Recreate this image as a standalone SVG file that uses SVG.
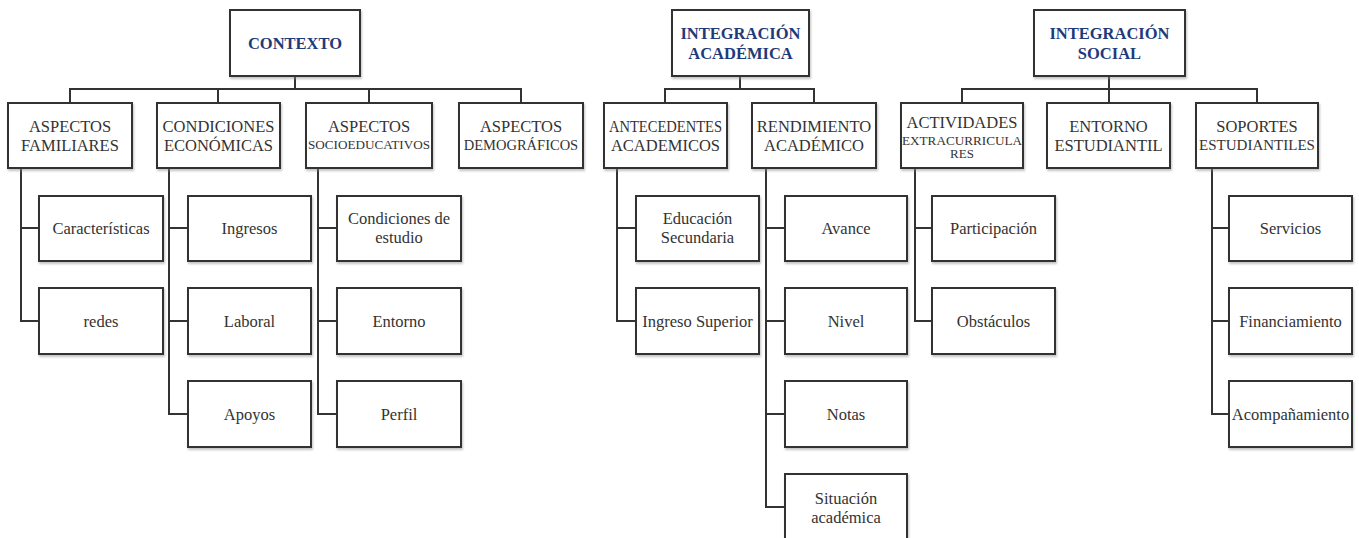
<svg xmlns="http://www.w3.org/2000/svg" width="1359" height="538" viewBox="0 0 1359 538">
<defs>
<filter id="sh" x="-5%" y="-5%" width="115%" height="120%">
<feDropShadow dx="1" dy="2" stdDeviation="0.8" flood-color="#888" flood-opacity="0.5"/>
</filter>
</defs>
<style>
rect{fill:#fff;stroke:#333;stroke-width:2;filter:url(#sh)}
text{font-family:"Liberation Serif","Times New Roman",serif;font-size:16.5px;fill:#333;text-anchor:middle}
.h{font-weight:bold;fill:#1f3a7a}
.sm{font-size:12.5px}
.c path{fill:none;stroke:#333;stroke-width:2}
</style>
<rect x="0" y="0" width="1359" height="538" style="fill:#fff;stroke:none;filter:none"/>
<g class="c" id="connectors">
<path d="M295 76V89M70 103V89H521V103M218 89V103M369 89V103"/>
<path d="M740 76V89M665 103V89H814V103"/>
<path d="M1109 76V103M962 103V89H1257V103"/>
<path d="M21 168V321H39M21 228H39"/>
<path d="M169 168V414H188M169 228H188M169 321H188"/>
<path d="M318 168V414H337M318 228H337M318 321H337"/>
<path d="M617 168V321H636M617 228H636"/>
<path d="M766 168V507H785M766 228H785M766 321H785M766 414H785"/>
<path d="M915 168V321H932M915 228H932"/>
<path d="M1212 168V414H1229M1212 228H1229M1212 321H1229"/>
</g>
<g id="contexto"><rect x="230" y="10" width="130" height="66"/><text class="h" x="295" y="49">CONTEXTO</text></g>
<g id="integracion-academica"><rect x="672" y="10" width="137" height="66"/><text class="h" x="740.5" y="39">INTEGRACIÓN</text><text class="h" x="740.5" y="59">ACADÉMICA</text></g>
<g id="integracion-social"><rect x="1034" y="10" width="151" height="66"/><text class="h" x="1109.5" y="39">INTEGRACIÓN</text><text class="h" x="1109.5" y="59">SOCIAL</text></g>

<g id="aspectos-familiares"><rect x="8" y="103" width="124" height="65"/><text x="70" y="132">ASPECTOS</text><text x="70" y="151">FAMILIARES</text></g>
<g id="condiciones-economicas"><rect x="157" y="103" width="123" height="65"/><text x="218.5" y="132">CONDICIONES</text><text x="218.5" y="151">ECONÓMICAS</text></g>
<g id="aspectos-socioeducativos"><rect x="306" y="103" width="126" height="65"/><text x="369" y="132">ASPECTOS</text><text x="369" y="149" class="sm" textLength="122" lengthAdjust="spacingAndGlyphs">SOCIOEDUCATIVOS</text></g>
<g id="aspectos-demograficos"><rect x="459" y="103" width="124" height="65"/><text x="521" y="132">ASPECTOS</text><text x="521" y="150" style="font-size:14.5px">DEMOGRÁFICOS</text></g>
<g id="antecedentes-academicos"><rect x="604" y="103" width="123" height="65"/><text x="665.5" y="132" textLength="113" lengthAdjust="spacingAndGlyphs">ANTECEDENTES</text><text x="665.5" y="151">ACADEMICOS</text></g>
<g id="rendimiento-academico"><rect x="752" y="103" width="124" height="65"/><text x="814" y="132">RENDIMIENTO</text><text x="814" y="151">ACADÉMICO</text></g>
<g id="actividades-extracurriculares"><rect x="901" y="103" width="122" height="65"/><text x="962" y="127.5">ACTIVIDADES</text><text x="962" y="144.5" style="font-size:13px" textLength="120" lengthAdjust="spacingAndGlyphs">EXTRACURRICULA</text><text x="962" y="157.5" style="font-size:13px">RES</text></g>
<g id="entorno-estudiantil"><rect x="1047" y="103" width="123" height="65"/><text x="1108.5" y="132">ENTORNO</text><text x="1108.5" y="151">ESTUDIANTIL</text></g>
<g id="soportes-estudiantiles"><rect x="1196" y="103" width="122" height="65"/><text x="1257" y="132">SOPORTES</text><text x="1257" y="150" style="font-size:15px">ESTUDIANTILES</text></g>

<g id="caracteristicas"><rect x="39" y="196" width="124" height="65"/><text x="101" y="233.5">Características</text></g>
<g id="redes"><rect x="39" y="288" width="124" height="66"/><text x="101" y="326.5">redes</text></g>
<g id="ingresos"><rect x="188" y="196" width="123" height="65"/><text x="249.5" y="233.5">Ingresos</text></g>
<g id="laboral"><rect x="188" y="288" width="123" height="66"/><text x="249.5" y="326.5">Laboral</text></g>
<g id="apoyos"><rect x="188" y="381" width="123" height="66"/><text x="249.5" y="419.5">Apoyos</text></g>
<g id="condiciones-estudio"><rect x="337" y="196" width="124" height="65"/><text x="399" y="224">Condiciones de</text><text x="399" y="243">estudio</text></g>
<g id="entorno"><rect x="337" y="288" width="124" height="66"/><text x="399" y="326.5">Entorno</text></g>
<g id="perfil"><rect x="337" y="381" width="124" height="66"/><text x="399" y="419.5">Perfil</text></g>
<g id="educacion-secundaria"><rect x="636" y="196" width="123" height="65"/><text x="697.5" y="224">Educación</text><text x="697.5" y="243">Secundaria</text></g>
<g id="ingreso-superior"><rect x="636" y="288" width="123" height="66"/><text x="697.5" y="326.5">Ingreso Superior</text></g>
<g id="avance"><rect x="785" y="196" width="122" height="65"/><text x="846" y="233.5">Avance</text></g>
<g id="nivel"><rect x="785" y="288" width="122" height="66"/><text x="846" y="326.5">Nivel</text></g>
<g id="notas"><rect x="785" y="381" width="122" height="66"/><text x="846" y="419.5">Notas</text></g>
<g id="situacion-academica"><rect x="785" y="474" width="122" height="70"/><text x="846" y="503.5">Situación</text><text x="846" y="522.5">académica</text></g>
<g id="participacion"><rect x="932" y="196" width="123" height="65"/><text x="993.5" y="233.5">Participación</text></g>
<g id="obstaculos"><rect x="932" y="288" width="123" height="66"/><text x="993.5" y="326.5">Obstáculos</text></g>
<g id="servicios"><rect x="1229" y="196" width="123" height="65"/><text x="1290.5" y="233.5">Servicios</text></g>
<g id="financiamiento"><rect x="1229" y="288" width="123" height="66"/><text x="1290.5" y="326.5">Financiamiento</text></g>
<g id="acompanamiento"><rect x="1229" y="381" width="123" height="66"/><text x="1290.5" y="419.5">Acompañamiento</text></g>
</svg>
